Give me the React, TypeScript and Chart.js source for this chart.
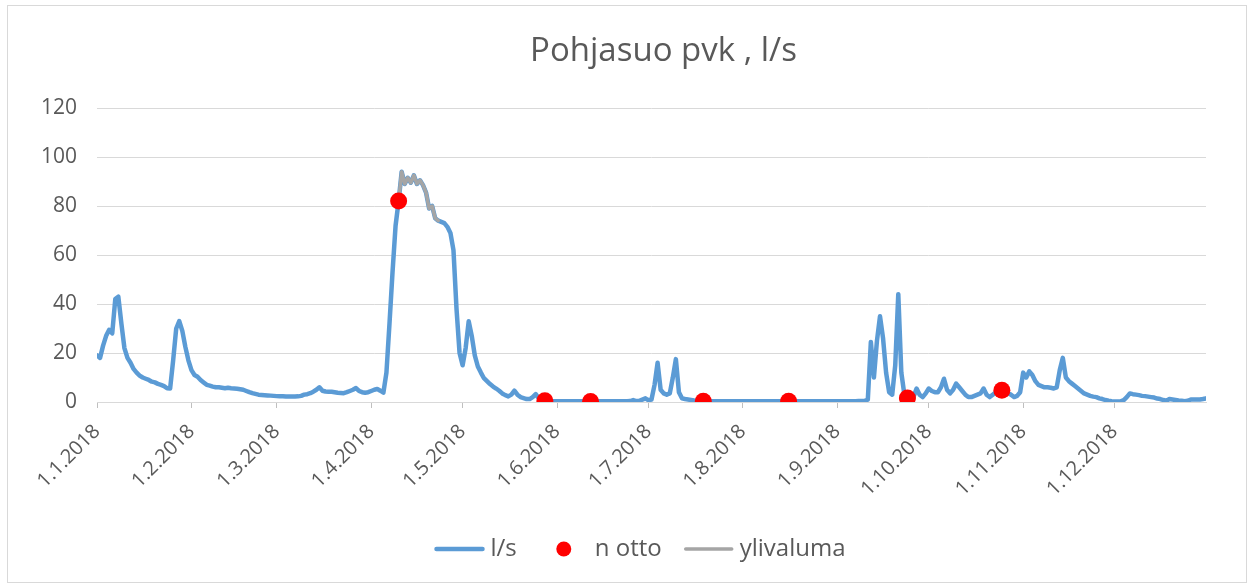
import React, { useEffect, useRef } from "react";
import { Chart, registerables } from "chart.js";

Chart.register(...registerables);

const chartTitle = "Pohjasuo pvk , l/s";
const monthLabels = [
  "1.1.2018", "1.2.2018", "1.3.2018", "1.4.2018", "1.5.2018", "1.6.2018",
  "1.7.2018", "1.8.2018", "1.9.2018", "1.10.2018", "1.11.2018", "1.12.2018",
];
const monthStartDays = [0, 31, 59, 90, 120, 151, 181, 212, 243, 273, 304, 334];
const lastDay = 364;
const yMin = 0;
const yMax = 120;
const yStep = 20;

// daily flow, l/s
const janFlow = [19, 18, 23, 27, 29.5, 28, 42, 43, 32, 22, 18, 16, 13.5, 12, 10.8, 10, 9.5, 9, 8.3, 8, 7.4, 7, 6.5, 5.6, 5.5, 17, 30, 33, 29, 22.5, 17];
const febFlow = [13, 11, 10.3, 9, 8, 7, 6.7, 6.3, 6, 6, 5.8, 5.6, 5.8, 5.6, 5.5, 5.4, 5.2, 5, 4.5, 4, 3.6, 3.3, 3, 2.9, 2.8, 2.7, 2.6, 2.5];
const marFlow = [2.4, 2.3, 2.3, 2.2, 2.2, 2.2, 2.2, 2.3, 2.5, 3, 3.2, 3.6, 4.2, 5, 6, 4.6, 4.3, 4.2, 4.2, 4, 3.8, 3.7, 3.6, 4, 4.5, 5, 5.7, 4.5, 4, 3.8, 4];
const aprFlow = [4.5, 5, 5.3, 4.6, 3.8, 12, 32, 53, 72, 82, 94, 89, 91.5, 89.5, 92.5, 89, 90.5, 88.5, 85.5, 79, 80, 75, 74, 73.5, 73, 71.5, 69, 62, 38, 20];
const mayFlow = [15, 22, 33, 27, 19, 14.5, 12, 9.7, 8.5, 7.3, 6.3, 5.5, 4.6, 3.5, 2.8, 2.3, 3, 4.6, 3, 2, 1.6, 1.2, 1.2, 2, 3.2, 1.5, 0.8, 0.5, 0.3, 0.3, 0.3];
const junFlow = [0.3, 0.3, 0.3, 0.3, 0.3, 0.3, 0.3, 0.3, 0.3, 0.3, 0.3, 0.3, 0.3, 0.3, 0.3, 0.3, 0.3, 0.3, 0.3, 0.3, 0.3, 0.3, 0.3, 0.3, 0.4, 0.8, 0.4, 0.5, 1, 1.5];
const julFlow = [0.7, 1, 7, 16, 5, 3.5, 3, 3.5, 10, 17.5, 4, 1.5, 1.2, 1, 0.8, 0.6, 0.5, 0.4, 0.3, 0.3, 0.3, 0.3, 0.3, 0.3, 0.3, 0.3, 0.3, 0.3, 0.3, 0.3, 0.3];
const augFlow = [0.3, 0.3, 0.3, 0.3, 0.3, 0.3, 0.3, 0.3, 0.3, 0.3, 0.3, 0.3, 0.3, 0.3, 0.3, 0.3, 0.3, 0.3, 0.3, 0.3, 0.3, 0.3, 0.3, 0.3, 0.3, 0.3, 0.3, 0.3, 0.3, 0.3, 0.3];
const sepFlow = [0.3, 0.3, 0.3, 0.3, 0.3, 0.3, 0.3, 0.4, 0.4, 0.5, 1, 24.5, 10, 25, 35, 26, 12, 4, 3, 15, 44, 12, 3, 1.6, 1, 2, 5.5, 3, 2, 3.5];
const octFlow = [5.5, 4.5, 4, 4, 6, 9.5, 5, 3.5, 5, 7.5, 6, 4.5, 3, 2, 2, 2.5, 3, 3.5, 5.5, 3, 2, 3, 4, 4.5, 4.8, 4, 3.5, 3, 2, 2.5, 4];
const novFlow = [12, 10, 12.5, 11, 8.5, 7, 6.5, 6, 6, 5.8, 5.5, 6, 13, 18, 10, 8.5, 7.5, 6.5, 5.5, 4.5, 3.5, 3, 2.5, 2.2, 2, 1.5, 1.2, 0.8, 0.5, 0.3];
const decFlow = [0.2, 0.2, 0.3, 0.8, 2, 3.5, 3.2, 3, 2.8, 2.5, 2.4, 2.2, 2, 1.8, 1.4, 1.2, 0.8, 0.5, 1.2, 1, 0.8, 0.6, 0.5, 0.3, 0.5, 1, 1, 1, 1, 1.2, 1.5];

const flowValues = [
  ...janFlow, ...febFlow, ...marFlow, ...aprFlow, ...mayFlow, ...junFlow,
  ...julFlow, ...augFlow, ...sepFlow, ...octFlow, ...novFlow, ...decFlow,
];

// overflow (ylivaluma) segment
const ylivalumaStartDay = 99;
const ylivalumaValues = [82, 94, 89, 91.5, 89.5, 92.5, 89, 90.5, 88.5, 85.5, 79, 80, 75, 74];

// sampling points (n otto)
const nottoDays = [99, 147, 162, 199, 227, 266, 297];
const nottoValues = [82, 0.5, 0.2, 0.3, 0.3, 1.6, 4.8];

const seriesNames = ["l/s", "n otto", "ylivaluma"];
const FONT = "'Open Sans', 'Noto Sans', sans-serif";
const TEXT = "#595959";
const GRID = "#D9D9D9";

export default function App() {
  const ref = useRef<HTMLCanvasElement | null>(null);

  useEffect(() => {
    if (!ref.current) return;

    const framePlugin = {
      id: "frame",
      beforeDraw(chart: any) {
        const ctx = chart.ctx;
        ctx.save();
        ctx.fillStyle = "#ffffff";
        ctx.fillRect(0, 0, chart.width, chart.height);
        ctx.strokeStyle = GRID;
        ctx.lineWidth = 1;
        ctx.strokeRect(7.5, 5.5, chart.width - 15, chart.height - 9);
        ctx.restore();
      },
    };

    const titlePlugin = {
      id: "customTitle",
      afterDraw(chart: any) {
        const ctx = chart.ctx;
        ctx.save();
        ctx.font = `33px ${FONT}`;
        ctx.fillStyle = TEXT;
        ctx.textAlign = "center";
        ctx.textBaseline = "middle";
        const ca = chart.chartArea;
        ctx.fillText(chartTitle, (ca.left + ca.right) / 2 + 12, 52);
        ctx.restore();
      },
    };

    const legendPlugin = {
      id: "customLegend",
      afterDraw(chart: any) {
        const ctx = chart.ctx;
        ctx.save();
        ctx.font = `24px ${FONT}`;
        ctx.textBaseline = "middle";
        ctx.textAlign = "left";
        const sampleW = 50;
        const textGap = 6;
        const itemGap = 22;
        const items = chart.data.datasets.map((ds: any) => ({
          ds,
          w: sampleW + textGap + ctx.measureText(ds.label).width,
        }));
        const total = items.reduce((s: number, it: any) => s + it.w, 0) + itemGap * (items.length - 1);
        let x = chart.width / 2 + 13 - total / 2;
        const y = 549;
        for (const it of items) {
          const ds = it.ds;
          if (ds.showLine === false) {
            ctx.beginPath();
            ctx.fillStyle = ds.pointBackgroundColor;
            ctx.arc(x + sampleW / 2, y, 7.5, 0, Math.PI * 2);
            ctx.fill();
          } else {
            ctx.beginPath();
            ctx.strokeStyle = ds.borderColor;
            ctx.lineWidth = ds.borderWidth;
            ctx.lineCap = "round";
            ctx.moveTo(x + 2, y);
            ctx.lineTo(x + sampleW - 2, y);
            ctx.stroke();
          }
          ctx.fillStyle = TEXT;
          ctx.fillText(ds.label, x + sampleW + textGap, y);
          x += it.w + itemGap;
        }
        ctx.restore();
      },
    };

    const flowData = flowValues.map((v, i) => ({ x: i, y: v }));
    const overflowData = ylivalumaValues.map((v, i) => ({ x: ylivalumaStartDay + i, y: v }));
    const nottoData = nottoDays.map((d, i) => ({ x: d, y: nottoValues[i] }));

    const chart = new Chart(ref.current, {
      type: "line",
      data: {
        datasets: [
          {
            label: seriesNames[0],
            data: flowData,
            borderColor: "#5B9BD5",
            backgroundColor: "#5B9BD5",
            borderWidth: 4.5,
            pointRadius: 0,
            tension: 0,
            borderJoinStyle: "round",
            borderCapStyle: "round",
            order: 3,
          },
          {
            label: seriesNames[1],
            data: nottoData,
            showLine: false,
            pointRadius: 8.5,
            pointBackgroundColor: "#FF0000",
            pointBorderColor: "#FF0000",
            pointBorderWidth: 0,
            borderColor: "#FF0000",
            backgroundColor: "#FF0000",
            order: 1,
          },
          {
            label: seriesNames[2],
            data: overflowData,
            borderColor: "#A5A5A5",
            backgroundColor: "#A5A5A5",
            borderWidth: 3.5,
            pointRadius: 0,
            tension: 0,
            borderJoinStyle: "round",
            borderCapStyle: "round",
            order: 2,
          },
        ],
      } as any,
      options: {
        responsive: false,
        animation: false,
        events: [],
        layout: { padding: { left: 0, right: 48, top: 108, bottom: 0 } },
        plugins: {
          legend: { display: false },
          tooltip: { enabled: false },
          title: { display: false },
        },
        scales: {
          x: {
            type: "linear",
            min: 0,
            max: lastDay,
            afterBuildTicks: (scale: any) => {
              scale.ticks = monthStartDays.map((v) => ({ value: v }));
            },
            afterFit: (scale: any) => {
              scale.height = 184;
            },
            ticks: {
              autoSkip: false,
              minRotation: 45,
              maxRotation: 45,
              padding: 12,
              color: TEXT,
              font: { family: FONT, size: 20 },
              callback: (_v: any, i: number) => monthLabels[i],
            },
            grid: {
              drawOnChartArea: false,
              drawTicks: true,
              tickLength: 6,
              color: "#BFBFBF",
            },
            border: { display: true, color: GRID, width: 1 },
          },
          y: {
            min: yMin,
            max: yMax,
            afterFit: (scale: any) => {
              scale.width = 97;
            },
            ticks: {
              stepSize: yStep,
              padding: 20,
              color: TEXT,
              font: { family: FONT, size: 21 },
            },
            grid: { color: GRID, drawTicks: false, lineWidth: 1 },
            border: { display: false },
          },
        },
      } as any,
      plugins: [framePlugin, titlePlugin, legendPlugin],
    });

    return () => chart.destroy();
  }, []);

  return (
    <div style={{ position: "absolute", left: 0, top: 0, width: 1254, height: 586, background: "#fff" }}>
      <canvas ref={ref} width={1254} height={586} style={{ display: "block", width: 1254, height: 586 }} />
    </div>
  );
}
